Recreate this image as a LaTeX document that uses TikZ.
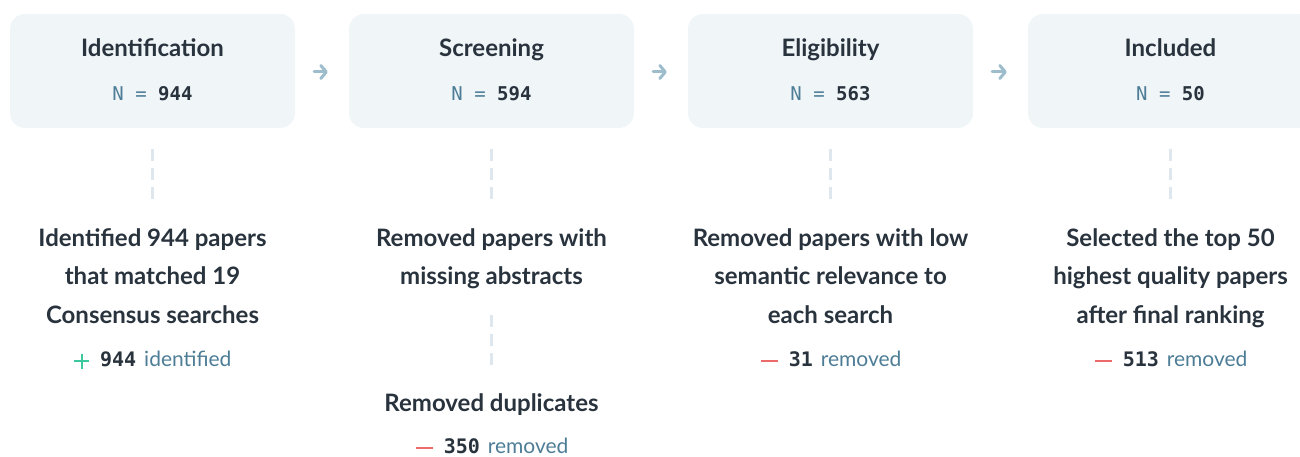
\documentclass[tikz,border=0pt]{standalone}
\usepackage{fontspec}
\setmainfont{Lato}
\setmonofont{DejaVu Sans Mono}
\usetikzlibrary{arrows.meta,calc}
\definecolor{boxfill}{HTML}{F0F5F8}
\definecolor{ink}{HTML}{29333D}
\definecolor{steel}{HTML}{4D7D96}
\definecolor{arrowc}{HTML}{9DBDCC}
\definecolor{dashc}{HTML}{DDE7ED}
\definecolor{plusg}{HTML}{3DC9A0}
\definecolor{minusr}{HTML}{EB6B6B}
\tikzset{
  stagebox/.style={fill=boxfill, rounded corners=15pt, minimum width=285pt, minimum height=114pt, inner sep=0pt},
  stagetitle/.style={font=\fontsize{24}{24}\selectfont\bfseries, text=ink, inner sep=0pt, anchor=base},
  stagen/.style={font=\fontsize{19}{19}\selectfont\ttfamily, text=steel, inner sep=0pt, anchor=base},
  flowarrow/.style={draw=arrowc, line width=3pt, line cap=round, -{Straight Barb[length=5.5pt,width=13pt,line width=3pt,round]}},
  vdash/.style={draw=dashc, line width=3pt, dash pattern=on 12pt off 7pt},
  desc/.style={font=\fontsize{24}{38.5}\selectfont\bfseries, text=ink, align=center, inner sep=0pt, anchor=base},
  countline/.style={font=\fontsize{21}{21}\selectfont, inner sep=0pt, anchor=base},
}
\newcommand{\numb}[1]{{\fontsize{19}{19}\selectfont\ttfamily\bfseries\color{ink}#1}}
\newcommand{\cnumb}[1]{{\fontsize{20}{20}\selectfont\ttfamily\bfseries\color{ink}#1}}
\newcommand{\plusmark}{\tikz[baseline=-0.5ex]{\draw[plusg,line width=1.6pt] (-7.5pt,0)--(7.5pt,0) (0,-7.5pt)--(0,7.5pt);}}
\newcommand{\minusmark}{\tikz[baseline=-0.5ex]{\draw[minusr,line width=2.2pt] (-8.5pt,0)--(8.5pt,0);}}
\begin{document}
\begin{tikzpicture}[x=1pt,y=-1pt]
\useasboundingbox (0,0) rectangle (1300,457);
\begin{scope}
\clip (0,0) rectangle (1300,457);
% boxes
\node[stagebox] (b1) at (152.5,71) {};
\node[stagebox] (b2) at (491.5,71) {};
\node[stagebox] (b3) at (830.5,71) {};
\node[stagebox] (b4) at (1170.5,71) {};
\end{scope}
% titles
\node[stagetitle] (t1) at (152.5,57) {Identification};
\node[stagetitle] (t2) at (491.5,57) {Screening};
\node[stagetitle] (t3) at (830.5,57) {Eligibility};
\node[stagetitle] (t4) at (1170.5,57) {Included};
\node[stagen] (n1) at (152.5,100.5) {N = \numb{944}};
\node[stagen] (n2) at (491.5,100.5) {N = \numb{594}};
\node[stagen] (n3) at (830.5,100.5) {N = \numb{563}};
\node[stagen] (n4) at (1170.5,100.5) {N = \numb{50}};
% arrows
\coordinate (a1s) at ($(b1.east)+(19,1)$); \coordinate (a1e) at ($(b2.west)+(-21,1)$);
\coordinate (a2s) at ($(b2.east)+(19,1)$); \coordinate (a2e) at ($(b3.west)+(-21,1)$);
\coordinate (a3s) at ($(b3.east)+(19,1)$); \coordinate (a3e) at ($(b4.west)+(-21,1)$);
\draw[flowarrow] (a1s) -- (a1e);
\draw[flowarrow] (a2s) -- (a2e);
\draw[flowarrow] (a3s) -- (a3e);
% dashed connectors
\coordinate (d1s) at (152.5,149); \coordinate (d1e) at (152.5,199);
\coordinate (d2s) at (491.5,149); \coordinate (d2e) at (491.5,199);
\coordinate (d3s) at (830.5,149); \coordinate (d3e) at (830.5,199);
\coordinate (d4s) at (1170.5,149); \coordinate (d4e) at (1170.5,199);
\coordinate (d5s) at (491.5,315); \coordinate (d5e) at (491.5,365);
\draw[vdash] (d1s) -- (d1e);
\draw[vdash] (d2s) -- (d2e);
\draw[vdash] (d3s) -- (d3e);
\draw[vdash] (d4s) -- (d4e);
\draw[vdash] (d5s) -- (d5e);
% descriptions (base = baseline of last line)
\node[desc] (s1) at (152.5,323) {Identified 944 papers\\that matched 19\\Consensus searches};
\node[desc] (s2) at (491.5,284.5) {Removed papers with\\missing abstracts};
\node[desc] (s3) at (830.5,323) {Removed papers with low\\semantic relevance to\\each search};
\node[desc] (s4) at (1170.5,323) {Selected the top 50\\highest quality papers\\after final ranking};
\node[desc] (s5) at (491.5,411.5) {Removed duplicates};
% counts
\node[countline] (c1) at (152.5,366.5) {\plusmark\hspace{10pt}\cnumb{944}\hspace{8pt}\textcolor{steel}{identified}};
\node[countline] (c3) at (830.5,366.5) {\minusmark\hspace{10pt}\cnumb{31}\hspace{8pt}\textcolor{steel}{removed}};
\node[countline] (c4) at (1170.5,366.5) {\minusmark\hspace{10pt}\cnumb{513}\hspace{8pt}\textcolor{steel}{removed}};
\node[countline] (c5) at (491.5,453.5) {\minusmark\hspace{10pt}\cnumb{350}\hspace{8pt}\textcolor{steel}{removed}};
\end{tikzpicture}
\end{document}
